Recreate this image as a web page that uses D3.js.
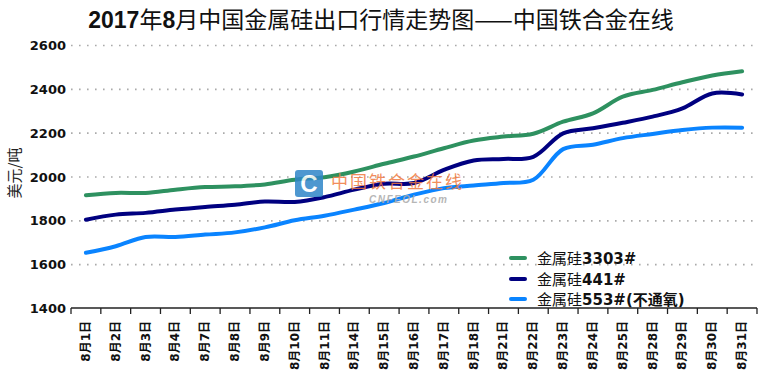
<!DOCTYPE html>
<meta charset="utf-8">
<script src="https://d3js.org/d3.v7.min.js"></script>
<style>
body { margin: 0; background: #fff; }
.grid line { stroke: #aaa; stroke-width: 1.6; stroke-dasharray: 1.6,6.4; }
.grid .domain { display: none; }
</style>
<body>
<div id="canvas"></div>
<script>

var dates = ["8月1日","8月2日","8月3日","8月4日","8月7日","8月8日","8月9日","8月10日","8月11日","8月14日","8月15日","8月16日",
             "8月17日","8月18日","8月21日","8月22日","8月23日","8月24日","8月25日","8月28日","8月29日","8月30日","8月31日"];
var si3303 = [1914,1925,1925,1940,1952,1955,1964,1985,1997,2023,2058,2091,2129,2164,2182,2195,2250,2288,2364,2395,2430,2461,2480];
var si441  = [1803,1826,1834,1849,1861,1871,1886,1884,1906,1940,1967,1970,2030,2073,2080,2090,2197,2220,2245,2273,2311,2379,2374];
var si553  = [1652,1682,1724,1724,1735,1745,1768,1800,1821,1849,1879,1917,1947,1959,1970,1985,2125,2145,2175,2194,2212,2223,2223];
var yTicks = [1400,1600,1800,2000,2200,2400,2600];
var seriesNames = [["金属硅","3303#",""],["金属硅","441#",""],["金属硅","553#","(不通氧)"]];
var colors = ["#2e9160","#000080","#0a84ff"];

var width = 760, height = 375;
var svg = d3.select("#canvas").append("svg")
    .attr("width", width).attr("height", height);

var cjk = "'Noto Sans CJK SC', sans-serif";
var latin = "'DejaVu Sans', 'Noto Sans CJK SC', sans-serif";

// titulo
var title = svg.append("text")
    .attr("x", 381).attr("y", 28)
    .attr("text-anchor", "middle")
    .style("font-size", "23px")
    .style("font-family", cjk)
    .attr("fill", "#111");
[["2017", true], ["年", false], ["8", true], ["月中国金属硅出口行情走势图——中国铁合金在线", false]].forEach(function(p) {
    title.append("tspan")
        .style("font-weight", p[1] ? "bold" : "normal")
        .style("font-family", p[1] ? "'Liberation Sans', sans-serif" : cjk)
        .text(p[0]);
});

var x = d3.scaleBand().domain(dates).range([71, 757]);
var y = d3.scaleLinear().domain([1400, 2600]).range([308, 45]);

// grade pontilhada
svg.append("g")
    .attr("class", "grid")
    .attr("transform", "translate(71,0)")
    .call(d3.axisRight(y).tickValues(yTicks.slice(1)).tickSize(686).tickFormat(""));

// rotulos do eixo y
svg.selectAll(".ylab")
    .data(yTicks)
    .enter().append("text")
    .attr("x", 66)
    .attr("y", function(d) { return y(d) + 5; })
    .attr("text-anchor", "end")
    .style("font-family", latin)
    .style("font-weight", "bold")
    .style("font-size", "13px")
    .attr("fill", "#111")
    .text(function(d) { return d; });

svg.append("text")
    .attr("transform", "translate(20,173) rotate(-90)")
    .attr("text-anchor", "middle")
    .style("font-family", cjk)
    .style("font-size", "15px")
    .attr("fill", "#222")
    .text("美元/吨");

// eixo x
svg.append("line")
    .attr("x1", 71).attr("x2", 757)
    .attr("y1", y(1400)).attr("y2", y(1400))
    .attr("stroke", "#222").attr("stroke-width", 1.3);
var edges = dates.map(function(d) { return x(d); }).concat([x.range()[1]]);
svg.selectAll(".xtick")
    .data(edges)
    .enter().append("line")
    .attr("x1", function(d) { return d; }).attr("x2", function(d) { return d; })
    .attr("y1", y(1400)).attr("y2", y(1400) + 6)
    .attr("stroke", "#222").attr("stroke-width", 1.3);

svg.selectAll(".xlab")
    .data(dates)
    .enter().append("text")
    .attr("transform", function(d) {
        return "translate(" + (x(d) + x.bandwidth() / 2 + 4) + "," + 321 + ") rotate(-90)";
    })
    .attr("text-anchor", "end")
    .style("font-family", latin)
    .style("font-weight", "bold")
    .style("font-size", "12px")
    .attr("fill", "#111")
    .text(function(d) { return d; });

// linhas
var line = d3.line()
    .x(function(d, i) { return x(dates[i]) + x.bandwidth() / 2; })
    .y(function(d) { return y(d); })
    .curve(d3.curveCatmullRom.alpha(0.5));

[si3303, si441, si553].forEach(function(s, i) {
    svg.append("path")
        .attr("d", line(s))
        .attr("fill", "none")
        .attr("stroke", colors[i])
        .attr("stroke-width", 4)
        .attr("stroke-linecap", "round");
});

// marca d'agua (por cima das linhas)
var wm = svg.append("g").attr("opacity", 0.85);
wm.append("rect")
    .attr("x", 295).attr("y", 170).attr("width", 28).attr("height", 27).attr("rx", 3)
    .attr("fill", "#2f86c8");
wm.append("text")
    .attr("x", 309).attr("y", 192)
    .attr("text-anchor", "middle")
    .style("font-family", "'Liberation Sans', sans-serif")
    .style("font-weight", "bold").style("font-size", "24px")
    .attr("fill", "#fff").text("C");
wm.append("text")
    .attr("x", 331).attr("y", 188)
    .style("font-family", cjk).style("font-size", "17px").style("letter-spacing", "2px")
    .attr("fill", "#f07a40").text("中国铁合金在线");
wm.append("text")
    .attr("x", 369).attr("y", 203)
    .style("font-family", "'Liberation Sans', sans-serif").style("font-style", "italic")
    .style("font-weight", "bold").style("font-size", "10px").style("letter-spacing", "1.5px")
    .attr("fill", "#aaa").text("CNFEOL.com");

// legenda
var leg = svg.selectAll(".leg")
    .data(seriesNames)
    .enter().append("g")
    .attr("transform", function(d, i) { return "translate(510," + [258, 279, 299][i] + ")"; });
leg.append("line")
    .attr("x1", 1).attr("x2", 15)
    .attr("stroke", function(d, i) { return colors[i]; })
    .attr("stroke-width", 4).attr("stroke-linecap", "round");
var lt = leg.append("text")
    .attr("x", 27).attr("y", 6)
    .style("font-size", "15px")
    .attr("fill", "#111");
lt.append("tspan").style("font-family", cjk).text(function(d) { return d[0]; });
lt.append("tspan").style("font-family", latin).style("font-weight", "bold").text(function(d) { return d[1]; });
lt.append("tspan").style("font-family", latin).style("font-weight", "bold").text(function(d) { return d[2]; });

</script>
</body>
